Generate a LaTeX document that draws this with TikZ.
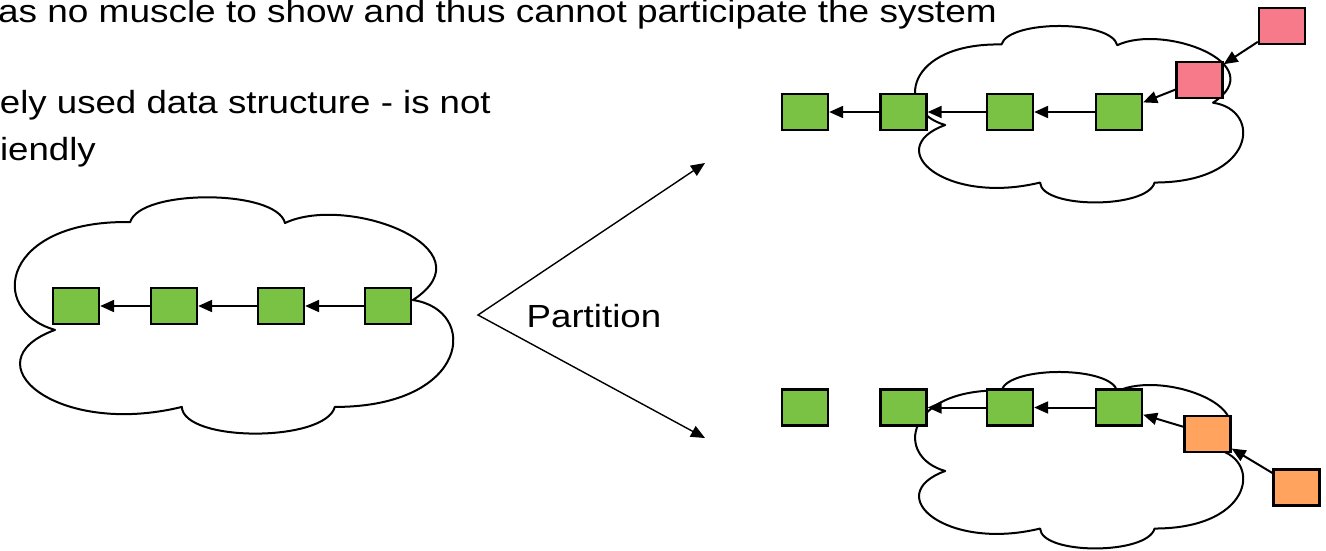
\documentclass[tikz,border=0pt]{standalone}
\usepackage{fontspec}
\setmainfont{Liberation Sans}
\usetikzlibrary{arrows.meta}

\definecolor{boxgreen}{RGB}{122,194,68}
\definecolor{boxpink}{RGB}{246,122,138}
\definecolor{boxorange}{RGB}{255,163,94}

% cloud outline in a unit box, placed at (x0,y0) with width W and height H
\newcommand{\drawcloud}[4]{%
  \begin{scope}[shift={(#1,#2)}, xscale=#3, yscale=#4]
    \draw[cloudline] (0.0975,0.565)
      .. controls (-0.06,0.48) and (-0.02,0.10) .. (0.268,0.110)
      .. controls (0.29,-0.03) and (0.60,-0.03) .. (0.619,0.114)
      .. controls (0.76,-0.01) and (1.09,0.22) .. (0.909,0.439)
      .. controls (1.06,0.48) and (1.04,0.89) .. (0.732,0.890)
      .. controls (0.71,1.04) and (0.39,1.04) .. (0.385,0.890)
      .. controls (0.10,1.02) and (-0.10,0.70) .. (0.0975,0.565) -- cycle;
  \end{scope}}

\begin{document}
\begin{tikzpicture}[x=1pt, y=-1pt,
  cloudline/.style={draw=black, line width=2pt, line join=round},
  listbox/.style={draw=black, line width=2.3pt, minimum width=46pt,
                  minimum height=36pt, inner sep=0pt},
  nextptr/.style={line width=2pt, -{Triangle[length=14pt,width=12pt]}},
  splitarrow/.style={line width=1.4pt,
    {Triangle[length=14pt,width=12pt]}-{Triangle[length=14pt,width=12pt]}},
  slidetext/.style={font=\fontsize{32}{38}\selectfont, inner sep=0pt, xscale=1.145}]

\clip (0,0) rectangle (1326,550);

% clouds
\drawcloud{12}{196}{441}{237}
\drawcloud{913}{25}{330}{177}
\drawcloud{913}{371}{330}{177}

% text
\node[slidetext, xscale=1.009, anchor=base east] (line1) at (997,22)
  {as no muscle to show and thus cannot participate the system};
\node[slidetext, anchor=base east] (line2) at (491,113.5)
  {ely used data structure - is not};
\node[slidetext, anchor=base east] (line3) at (96,160.5) {iendly};
\node[slidetext, anchor=base west] (parttext) at (526.5,327) {Partition};

% partition fork
\coordinate (forkpt) at (478,315);
\coordinate (uptip) at (705,163);
\coordinate (downtip) at (705,438);
\draw[splitarrow] (uptip) -- (forkpt) -- (downtip);

% left list
\node[listbox, fill=boxgreen] (a1) at (76,306) {};
\node[listbox, fill=boxgreen] (a2) at (174,306) {};
\node[listbox, fill=boxgreen] (a3) at (281,306) {};
\node[listbox, fill=boxgreen] (a4) at (388,306) {};
\draw[nextptr] (a2) -- (a1);
\draw[nextptr] (a3) -- (a2);
\draw[nextptr] (a4) -- (a3);

% upper partition
\node[listbox, fill=boxgreen] (b1) at (805,112) {};
\node[listbox, fill=boxgreen] (b2) at (903.5,112) {};
\node[listbox, fill=boxgreen] (b3) at (1010,112) {};
\node[listbox, fill=boxgreen] (b4) at (1119,112) {};
\node[listbox, fill=boxpink] (r1) at (1199.5,80) {};
\node[listbox, fill=boxpink] (r2) at (1282,26) {};
\draw[nextptr] (b2) -- (b1);
\draw[nextptr] (b3) -- (b2);
\draw[nextptr] (b4) -- (b3);
\draw[nextptr] (r1) -- (b4);
\draw[nextptr] (r2) -- (r1);

% lower partition
\node[listbox, fill=boxgreen] (c1) at (805,407.5) {};
\node[listbox, fill=boxgreen] (c2) at (903.5,407.5) {};
\node[listbox, fill=boxgreen] (c3) at (1010,407.5) {};
\node[listbox, fill=boxgreen] (c4) at (1119,407.5) {};
\node[listbox, fill=boxorange] (o1) at (1207.5,434) {};
\node[listbox, fill=boxorange] (o2) at (1296.5,487.5) {};
\draw[nextptr] (c3) -- (c2);
\draw[nextptr] (c4) -- (c3);
\draw[nextptr] (o1) -- (c4);
\draw[nextptr] (o2) -- (o1);

\end{tikzpicture}
\end{document}
